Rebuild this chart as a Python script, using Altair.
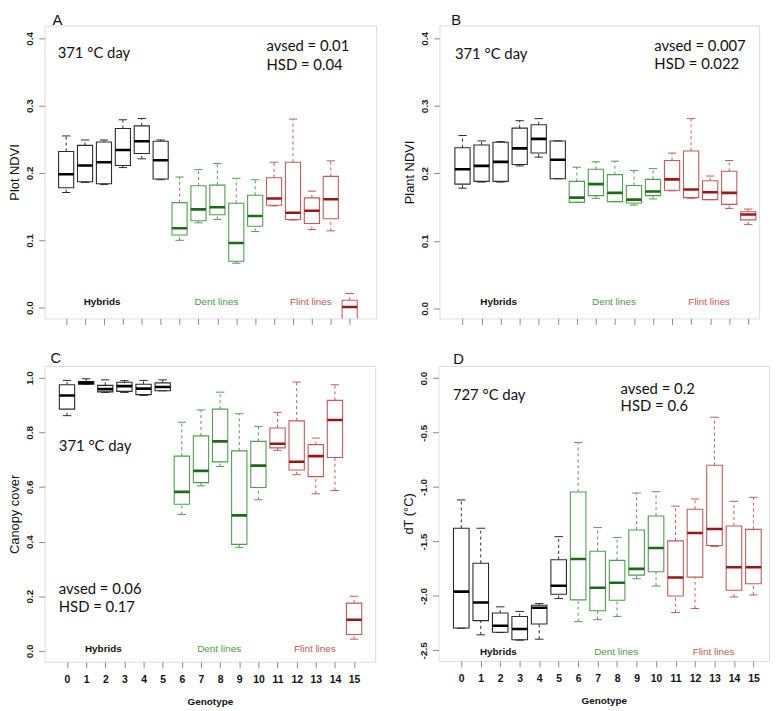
import altair as alt
import pandas as pd

genotypes = list(range(16))
groups = ["Hybrids"] * 6 + ["Dent lines"] * 5 + ["Flint lines"] * 5
group_names = ["Hybrids", "Dent lines", "Flint lines"]

# Panel A: Plot NDVI (371 °C day)
a_low = [0.171, 0.186, 0.183, 0.208, 0.221, 0.190, 0.100, 0.126, 0.131, 0.066, 0.113, 0.151, 0.130, 0.116, 0.114, -0.030]
a_q1 = [0.178, 0.187, 0.184, 0.211, 0.229, 0.191, 0.108, 0.129, 0.138, 0.069, 0.121, 0.152, 0.131, 0.125, 0.132, -0.020]
a_med = [0.198, 0.211, 0.216, 0.234, 0.247, 0.219, 0.118, 0.146, 0.149, 0.096, 0.136, 0.162, 0.141, 0.144, 0.161, 0.001]
a_q3 = [0.232, 0.241, 0.246, 0.266, 0.270, 0.247, 0.156, 0.181, 0.182, 0.155, 0.167, 0.193, 0.216, 0.163, 0.195, 0.011]
a_high = [0.255, 0.249, 0.249, 0.279, 0.281, 0.249, 0.194, 0.205, 0.214, 0.192, 0.190, 0.216, 0.280, 0.173, 0.218, 0.021]

# Panel B: Plant NDVI (371 °C day)
b_low = [0.178, 0.187, 0.187, 0.211, 0.224, 0.192, 0.157, 0.163, 0.158, 0.153, 0.162, 0.174, 0.163, 0.161, 0.148, 0.124]
b_q1 = [0.184, 0.188, 0.188, 0.213, 0.230, 0.192, 0.157, 0.167, 0.158, 0.156, 0.167, 0.175, 0.164, 0.161, 0.154, 0.131]
b_med = [0.206, 0.211, 0.217, 0.237, 0.251, 0.220, 0.164, 0.184, 0.171, 0.161, 0.173, 0.191, 0.176, 0.172, 0.171, 0.139]
b_q3 = [0.238, 0.242, 0.246, 0.267, 0.272, 0.248, 0.188, 0.206, 0.198, 0.182, 0.191, 0.219, 0.233, 0.189, 0.203, 0.143]
b_high = [0.256, 0.248, 0.247, 0.278, 0.281, 0.248, 0.209, 0.217, 0.218, 0.204, 0.207, 0.230, 0.281, 0.196, 0.219, 0.147]

# Panel C: Canopy cover (371 °C day)
c_low = [0.861, 0.976, 0.946, 0.946, 0.935, 0.952, 0.499, 0.604, 0.675, 0.378, 0.553, 0.734, 0.645, 0.575, 0.587, 0.043]
c_q1 = [0.885, 0.976, 0.948, 0.950, 0.938, 0.952, 0.537, 0.616, 0.692, 0.390, 0.598, 0.743, 0.662, 0.638, 0.708, 0.060]
c_med = [0.935, 0.981, 0.958, 0.969, 0.960, 0.966, 0.582, 0.659, 0.767, 0.496, 0.678, 0.758, 0.692, 0.713, 0.845, 0.114]
c_q3 = [0.974, 0.986, 0.972, 0.983, 0.976, 0.981, 0.713, 0.787, 0.885, 0.732, 0.767, 0.816, 0.842, 0.755, 0.917, 0.175]
c_high = [0.990, 0.996, 0.992, 0.989, 0.990, 0.992, 0.837, 0.882, 0.947, 0.868, 0.822, 0.873, 0.984, 0.779, 0.974, 0.200]

# Panel D: dT (727 °C day)
d_low = [-2.297, -2.357, -2.336, -2.406, -2.397, -2.024, -2.236, -2.218, -2.188, -1.842, -1.909, -2.152, -2.115, -1.545, -2.009, -1.991]
d_q1 = [-2.294, -2.227, -2.333, -2.403, -2.257, -1.985, -2.036, -2.136, -2.039, -1.809, -1.778, -2.000, -1.827, -1.536, -1.948, -1.888]
d_med = [-1.960, -2.060, -2.273, -2.303, -2.109, -1.906, -1.660, -1.924, -1.879, -1.751, -1.560, -1.830, -1.421, -1.385, -1.736, -1.736]
d_q3 = [-1.378, -1.700, -2.157, -2.188, -2.085, -1.667, -1.045, -1.590, -1.673, -1.394, -1.266, -1.494, -1.203, -0.800, -1.357, -1.388]
d_high = [-1.118, -1.378, -2.100, -2.142, -2.070, -1.455, -0.590, -1.372, -1.464, -1.055, -1.042, -1.175, -1.109, -0.358, -1.130, -1.094]

a_ticks = [0.0, 0.1, 0.2, 0.3, 0.4]
c_ticks = [0.0, 0.2, 0.4, 0.6, 0.8, 1.0]
d_ticks = [0.0, -0.5, -1.0, -1.5, -2.0, -2.5]

a_notes = ["371 °C day", "avsed = 0.01", "HSD = 0.04"]
b_notes = ["371 °C day", "avsed = 0.007", "HSD = 0.022"]
c_notes = ["371 °C day", "avsed = 0.06", "HSD = 0.17"]
d_notes = ["727 °C day", "avsed = 0.2", "HSD = 0.6"]

outline_colors = ["#2b2b2b", "#4f9d4f", "#c45a5a"]
median_colors = ["#000000", "#1b6b1b", "#9e1414"]
label_colors = ["#111111", "#4a9a4a", "#c25656"]
FRAME = "#8a8a8a"
FONT = "Liberation Sans"


def make_panel(vals, ydomain, yticks, ytitle, xdomain, w, h, letter, letter_dx,
               letter_y, show_x, notes, note_pos, grp_y):
    low, q1, med, q3, high = vals
    df = pd.DataFrame({"g": genotypes, "grp": groups, "low": low, "q1": q1,
                       "med": med, "q3": q3, "high": high})
    xs = alt.Scale(domain=xdomain, nice=False, zero=False)
    ys = alt.Scale(domain=ydomain, nice=False, zero=False)
    xaxis_kw = dict(values=genotypes, format="d", tickSize=6, tickColor=FRAME,
                    domain=False, grid=False, labels=show_x, labelFont=FONT,
                    labelFontSize=10.5, labelFontWeight="bold", labelColor="#111",
                    labelPadding=7, titleFont=FONT, titleFontSize=10,
                    titleFontWeight="bold", titleColor="#111", titlePadding=12)
    if show_x:
        xaxis = alt.Axis(title="Genotype", **xaxis_kw)
    else:
        xaxis = alt.Axis(title=None, **xaxis_kw)
    yaxis = alt.Axis(title=ytitle, values=yticks,
                     labelExpr="replace(format(datum.value, '.1f'), '\u2212', '-')",
                     labelAngle=270, labelAlign="center", labelBaseline="bottom",
                     tickSize=6, tickColor=FRAME, labelPadding=4, domain=False,
                     grid=False, labelFont=FONT, labelFontSize=10,
                     labelFontWeight="bold", labelColor="#222", titleFont=FONT,
                     titleFontSize=13, titleFontWeight="normal", titleColor="#111",
                     titlePadding=3)

    def X(f):
        return alt.X(f, type="quantitative", scale=xs, axis=xaxis)

    def Y(f):
        return alt.Y(f, type="quantitative", scale=ys, axis=yaxis)

    col = alt.Color("grp:N", scale=alt.Scale(domain=group_names, range=outline_colors), legend=None)
    med_col = alt.Stroke("grp:N", scale=alt.Scale(domain=group_names, range=median_colors), legend=None)

    base = alt.Chart(df).transform_calculate(
        xl="datum.g - 0.4", xr="datum.g + 0.4",
        cl="datum.g - 0.22", cr="datum.g + 0.22")

    w_up = base.mark_rule(strokeDash=[3, 3], strokeWidth=1, clip=True).encode(
        x=X("g"), y=Y("q3"), y2="high", color=col)
    w_dn = base.mark_rule(strokeDash=[3, 3], strokeWidth=1, clip=True).encode(
        x=X("g"), y=Y("low"), y2="q1", color=col)
    cap_up = base.mark_rule(strokeWidth=1, clip=True).encode(
        x=X("cl"), x2="cr", y=Y("high"), color=col)
    cap_dn = base.mark_rule(strokeWidth=1, clip=True).encode(
        x=X("cl"), x2="cr", y=Y("low"), color=col)
    box = base.mark_rect(filled=False, strokeWidth=1.1, clip=True).encode(
        x=X("xl"), x2="xr", y=Y("q1"), y2="q3", color=col)
    median = base.mark_rule(strokeWidth=2.6, clip=True).encode(
        x=X("xl"), x2="xr", y=Y("med"), stroke=med_col)

    layers = [w_up, w_dn, cap_up, cap_dn, box, median]

    for txt, (nx, ny) in zip(notes, note_pos):
        layers.append(
            alt.Chart(pd.DataFrame({"label": [txt]})).mark_text(
                align="left", baseline="middle", font="Lato", fontSize=15,
                color="#111").encode(
                x=alt.XDatum(nx, type="quantitative", scale=xs, axis=xaxis),
                y=alt.YDatum(ny, type="quantitative", scale=ys, axis=yaxis),
                text="label:N"))

    grp_x = [1.9, 7.95, 12.95]
    for name, gx, gc in zip(group_names, grp_x, label_colors):
        layers.append(
            alt.Chart(pd.DataFrame({"label": [name]})).mark_text(
                align="center", baseline="middle", font=FONT, fontSize=10,
                fontWeight="bold" if name == "Hybrids" else "normal",
                color=gc).encode(
                x=alt.XDatum(gx, type="quantitative", scale=xs, axis=xaxis),
                y=alt.YDatum(grp_y, type="quantitative", scale=ys, axis=yaxis),
                text="label:N"))

    # panel letter above the frame
    layers.append(
        alt.Chart(pd.DataFrame({"label": [letter]})).mark_text(
            align="left", baseline="alphabetic", font=FONT, fontSize=15,
            color="#111").encode(
            x=alt.value(letter_dx), y=alt.value(letter_y), text="label:N"))

    return alt.layer(*layers).properties(width=w, height=h)


pA = make_panel((a_low, a_q1, a_med, a_q3, a_high), [-0.016, 0.419], a_ticks, "Plot NDVI",
                [-1.14, 16.4], 335, 296, "A", 8, -1, False, a_notes,
                [(-0.45, 0.378), (10.6, 0.388), (10.6, 0.361)], 0.008)
pB = make_panel((b_low, b_q1, b_med, b_q3, b_high), [-0.015, 0.419], a_ticks, "Plant NDVI",
                [-1.21, 15.57], 323, 296, "B", 12, -1, False, b_notes,
                [(-0.4, 0.377), (10.07, 0.389), (10.07, 0.362)], 0.009)
pC = make_panel((c_low, c_q1, c_med, c_q3, c_high), [-0.04, 1.043], c_ticks, "Canopy cover",
                [-1.17, 16.1], 334, 299, "C", 6, -3, True, c_notes,
                [(-0.43, 0.749), (-0.43, 0.227), (-0.43, 0.16)], 0.007)
pD = make_panel((d_low, d_q1, d_med, d_q3, d_high), [-2.596, 0.113], d_ticks, "dT (°C)",
                [-1.17, 15.8], 334, 298, "D", 15, -2, True, d_notes,
                [(-0.43, -0.151), (8.18, -0.097), (8.18, -0.257)], -2.515)

top = alt.hconcat(pA, pB, spacing=26)
bottom = alt.hconcat(pC, pD, spacing=26)

chart = alt.vconcat(top, bottom, spacing=25).properties(
    padding={"left": 0, "top": 0, "right": 0, "bottom": 0}
).configure_view(stroke=FRAME, strokeWidth=1.4).configure(background="white")

chart.save("out.html", embed_options={"renderer": "svg", "actions": False})
